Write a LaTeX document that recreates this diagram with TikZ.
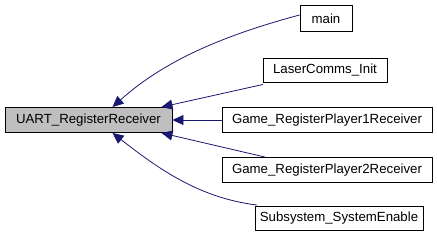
\documentclass[tikz,border=0pt]{standalone}
\usepackage{fontspec}
\setmainfont{Liberation Sans}
\usetikzlibrary{arrows.meta}
\definecolor{edgeblue}{HTML}{191970}
\definecolor{focusgray}{HTML}{BFBFBF}
\begin{document}
\begin{tikzpicture}[x=1bp,y=-1bp,
  fn/.style={draw=black,line width=0.9bp,fill=white,inner sep=0pt,font=\fontsize{13.3}{15}\selectfont,anchor=center},
  call/.style={draw=edgeblue,line width=0.8bp,-{Triangle[length=11bp,width=10bp]},color=edgeblue}]
\useasboundingbox (0,0) rectangle (437,240);
\node[fn,fill=focusgray,minimum width=167bp,minimum height=25bp] (uart) at (88.5,120) {UART\_RegisterReceiver};
\node[fn,minimum width=52bp,minimum height=26bp] (main) at (326,18.5) {main};
\node[fn,minimum width=124bp,minimum height=24bp] (laser) at (325,70.5) {LaserComms\_Init};
\node[fn,minimum width=210bp,minimum height=25bp] (p1) at (327,120) {Game\_RegisterPlayer1Receiver};
\node[fn,minimum width=210bp,minimum height=25bp] (p2) at (327,170) {Game\_RegisterPlayer2Receiver};
\node[fn,minimum width=168bp,minimum height=24bp] (sub) at (339,218.5) {Subsystem\_SystemEnable};
\coordinate (mainE) at ([yshift=3.5bp]main.west);
\draw[call] (mainE) .. controls (225,35) and (165,60) .. ([xshift=24bp]uart.north);
\draw[call] ([xshift=-62bp,yshift=-1.5bp]laser.south) -- ([xshift=73bp]uart.north);
\draw[call] (p1.west) -- (uart.east);
\draw[call] ([xshift=-62bp]p2.north) -- ([xshift=73bp]uart.south);
\draw[call] ([xshift=-82bp,yshift=1bp]sub.north) .. controls (200,198) and (160,170) .. ([xshift=24bp]uart.south);
\end{tikzpicture}
\end{document}
